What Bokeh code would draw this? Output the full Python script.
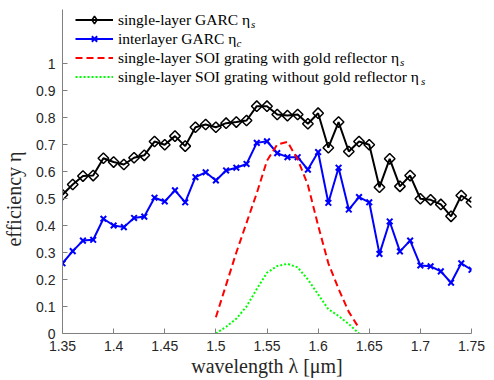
from bokeh.plotting import figure
from bokeh.models import Legend, LegendItem, FixedTicker, Label, Range1d
from bokeh.embed import file_html
from bokeh.resources import INLINE

# wavelength samples (um)
lam = [1.35, 1.36, 1.37, 1.38, 1.39, 1.40, 1.41, 1.42, 1.43, 1.44,
       1.45, 1.46, 1.47, 1.48, 1.49, 1.50, 1.51, 1.52, 1.53, 1.54,
       1.55, 1.56, 1.57, 1.58, 1.59, 1.60, 1.61, 1.62, 1.63, 1.64,
       1.65, 1.66, 1.67, 1.68, 1.69, 1.70, 1.71, 1.72, 1.73, 1.74, 1.75]

single_garc = [0.514, 0.552, 0.583, 0.585, 0.649, 0.635, 0.626, 0.651, 0.660, 0.711,
               0.699, 0.731, 0.694, 0.764, 0.774, 0.764, 0.779, 0.783, 0.789, 0.842,
               0.842, 0.811, 0.807, 0.811, 0.777, 0.816, 0.688, 0.783, 0.674, 0.711,
               0.699, 0.542, 0.647, 0.545, 0.585, 0.499, 0.495, 0.478, 0.434, 0.511, 0.486]

inter_garc = [0.260, 0.305, 0.344, 0.347, 0.425, 0.400, 0.394, 0.428, 0.433, 0.503,
              0.489, 0.530, 0.486, 0.579, 0.597, 0.567, 0.604, 0.614, 0.628, 0.706,
              0.712, 0.668, 0.653, 0.653, 0.607, 0.672, 0.484, 0.614, 0.459, 0.505,
              0.486, 0.295, 0.415, 0.304, 0.344, 0.252, 0.249, 0.230, 0.188, 0.260, 0.236]

lam_soi = [1.50, 1.51, 1.52, 1.53, 1.54, 1.55, 1.56, 1.57,
           1.58, 1.59, 1.60, 1.61, 1.62, 1.63, 1.64]
soi_gold = [0.06, 0.18, 0.30, 0.41, 0.52, 0.64, 0.70, 0.71,
            0.645, 0.55, 0.40, 0.26, 0.165, 0.08, 0.02]
soi_nogold = [0.0, 0.025, 0.055, 0.10, 0.165, 0.225, 0.25, 0.258,
              0.245, 0.20, 0.145, 0.09, 0.065, 0.035, 0.0]

x_ticks = [1.35, 1.4, 1.45, 1.5, 1.55, 1.6, 1.65, 1.7, 1.75]
x_tick_labels = ["1.35", "1.4", "1.45", "1.5", "1.55", "1.6", "1.65", "1.7", "1.75"]
y_ticks = [0, 0.1, 0.2, 0.3, 0.4, 0.5, 0.6, 0.7, 0.8, 0.9, 1]
y_tick_labels = ["0", "0.1", "0.2", "0.3", "0.4", "0.5", "0.6", "0.7", "0.8", "0.9", "1"]

legend_labels = ["single-layer GARC \u03b7",
                 "interlayer GARC \u03b7",
                 "single-layer SOI grating with gold reflector \u03b7",
                 "single-layer SOI grating without gold reflector \u03b7"]
legend_subs = ["s", "c", "s", "s"]

SERIF = "Liberation Serif"
SANS = "Liberation Sans"

FW, FH = 409, 324
p = figure(frame_width=FW, frame_height=FH,
           x_range=Range1d(1.35, 1.75), y_range=Range1d(0, 1.2),
           output_backend="svg", toolbar_location=None,
           min_border_left=55, min_border_top=9, min_border_right=14, min_border_bottom=39)
p.outline_line_color = None
p.grid.visible = False
p.background_fill_color = "white"
p.border_fill_color = "white"

bl = p.line(lam, single_garc, line_color="black", line_width=2)
bs = p.scatter(lam, single_garc, marker="square", angle=0.785398, size=7.5,
               line_color="black", fill_color=None, line_width=1.5)
# legend-only diamond swatch (a single undefined point, never drawn in the plot)
nan = float("nan")
bs_key = p.scatter(x=[nan], y=[nan], marker="diamond", size=12,
                   line_color="black", fill_color=None, line_width=1.5)
ul = p.line(lam, inter_garc, line_color="#0000ff", line_width=2)
us = p.scatter(lam, inter_garc, marker="x", size=8, line_color="#0000ff", line_width=2)
rl = p.line(lam_soi, soi_gold, line_color="#ff0000", line_width=2, line_dash="7 4")
gl = p.line(lam_soi, soi_nogold, line_color="#00ff00", line_width=2, line_dash="2 2")

LX = 11
legend = Legend(items=[LegendItem(label=legend_labels[0], renderers=[bl, bs_key]),
                       LegendItem(label=legend_labels[1], renderers=[ul, us]),
                       LegendItem(label=legend_labels[2], renderers=[rl]),
                       LegendItem(label=legend_labels[3], renderers=[gl])],
                location=(LX, FH - 79), glyph_width=38, glyph_height=19, label_height=19,
                spacing=0, padding=2, margin=0, label_standoff=5,
                label_text_font=SERIF, label_text_font_size="15.5px", label_text_color="black",
                label_text_baseline="middle",
                background_fill_alpha=0, border_line_alpha=0)
p.add_layout(legend)

sub_x = [188.5, 174, 337.5, 358.5]
sub_y = [FH - 14.5, FH - 33.5, FH - 52.5, FH - 71.5]
for sx, sy, t in zip(sub_x, sub_y, legend_subs):
    p.add_layout(Label(x=sx, y=sy, x_units="screen", y_units="screen", text=t,
                       text_font=SERIF, text_font_style="italic", text_font_size="11px",
                       text_baseline="middle", text_color="black"))

for ax in (p.xaxis[0], p.yaxis[0]):
    ax.axis_line_color = "#808080"
    ax.major_tick_line_color = "#808080"
    ax.minor_tick_line_color = None
    ax.major_tick_in = 5
    ax.major_tick_out = 0
    ax.major_label_text_font = SANS
    ax.major_label_text_font_size = "14px"
    ax.major_label_text_color = "#262626"
    ax.axis_label_text_font = SERIF
    ax.axis_label_text_font_size = "20px"
    ax.axis_label_text_font_style = "normal"
    ax.axis_label_text_color = "#262626"

p.xaxis.ticker = FixedTicker(ticks=x_ticks)
p.xaxis.major_label_overrides = dict(zip(x_ticks, x_tick_labels))
p.yaxis.ticker = FixedTicker(ticks=y_ticks)
p.yaxis.major_label_overrides = dict(zip(y_ticks, y_tick_labels))
p.xaxis.axis_label = "wavelength \u03bb [\u03bcm]"
p.yaxis.axis_label = "efficiency \u03b7" + "\u00a0" * 11
p.xaxis.major_label_standoff = 7
p.yaxis.major_label_standoff = 7
p.xaxis.axis_label_standoff = 1
p.yaxis.axis_label_standoff = 8

open("out.html", "w").write(file_html(p, INLINE))
